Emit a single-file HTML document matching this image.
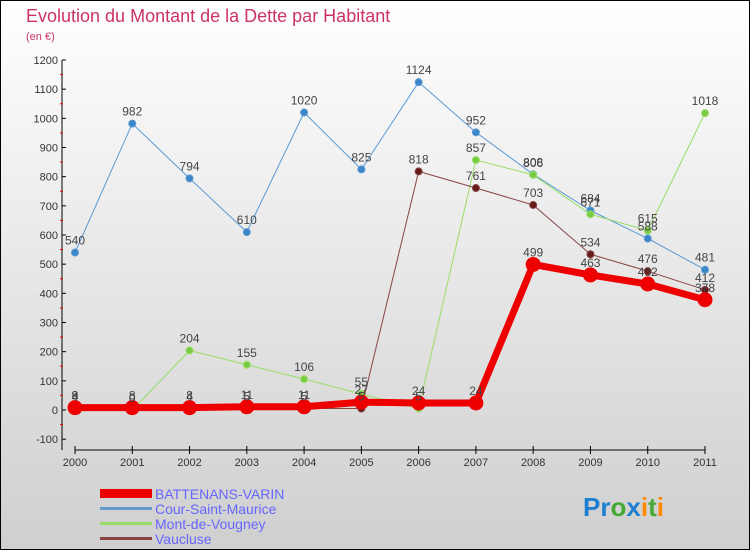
<!DOCTYPE html>
<html><head><meta charset="utf-8"><style>
html,body{margin:0;padding:0}
body{width:750px;height:550px;overflow:hidden;font-family:"Liberation Sans",sans-serif}
</style></head><body>
<svg id="c" width="750" height="550" xmlns="http://www.w3.org/2000/svg">
<defs><linearGradient id="bg" x1="0" y1="0" x2="0" y2="1"><stop offset="0" stop-color="#ffffff"/><stop offset="1" stop-color="#cfcfcf"/></linearGradient></defs>
<rect x="0.5" y="0.5" width="749" height="549" fill="url(#bg)" stroke="#000"/>
<text x="26" y="22" font-size="18" fill="#cc3366">Evolution du Montant de la Dette par Habitant</text>
<text x="26" y="40" font-size="11" fill="#cc3366">(en €)</text>
<g id="axes"></g><g id="series"></g><g id="labels"></g>
<g>
<rect x="100" y="489" width="52" height="9" fill="#ee0000"/><text x="155" y="499" font-size="14" fill="#6666ff">BATTENANS-VARIN</text>
<rect x="100" y="507" width="52" height="3" fill="#6699cc"/><text x="155" y="514" font-size="14" fill="#6666ff">Cour-Saint-Maurice</text>
<rect x="100" y="522" width="52" height="3" fill="#99dd66"/><text x="155" y="529" font-size="14" fill="#6666ff">Mont-de-Vougney</text>
<rect x="100" y="537" width="52" height="3" fill="#884444"/><text x="155" y="544" font-size="14" fill="#6666ff">Vaucluse</text>
</g>
<text x="583" y="516" font-size="26" font-weight="bold"><tspan fill="#1e7fd0">Pr</tspan><tspan fill="#44aa33">o</tspan><tspan fill="#1e7fd0">x</tspan><tspan fill="#ff8800">i</tspan><tspan fill="#44aa33">t</tspan><tspan fill="#ff8800">i</tspan></text>
</svg>
<script>
const years=["2000","2001","2002","2003","2004","2005","2006","2007","2008","2009","2010","2011"];
const yTicks=[-100,0,100,200,300,400,500,600,700,800,900,1000,1100,1200];
const battenans=[8,8,8,11,11,27,24,24,499,463,432,378];
const cour=[540,982,794,610,1020,825,1124,952,808,684,588,481];
const mont=[9,0,204,155,106,55,5,857,806,671,615,1018];
const vaucluse=[4,0,4,5,5,5,818,761,703,534,476,412];
const NS="http://www.w3.org/2000/svg";
const X=i=>75+i*(630/11);
const Y=v=>410-v*(350/1200);
function mk(t,a,p){const e=document.createElementNS(NS,t);for(const k in a)e.setAttribute(k,a[k]);p.appendChild(e);return e;}
const ax=document.getElementById('axes');
mk('line',{x1:62,y1:60,x2:62,y2:450,stroke:'#000'},ax);
mk('line',{x1:75,y1:450,x2:705,y2:450,stroke:'#000'},ax);
yTicks.forEach(v=>{
  const l=mk('line',{x1:62,y1:Y(v),x2:66,y2:Y(v),stroke:'#000'},ax);
  
  
  const t=mk('text',{x:58,y:Y(v)+4,'font-size':11,'text-anchor':'end',fill:'#333'},ax);
  
  
  t.textContent=v;
  if(v<1200){const m=mk('line',{x1:60,y1:Y(v+50),x2:63,y2:Y(v+50),stroke:'#e00'},ax);}
});
years.forEach((y,i)=>{
  mk('line',{x1:X(i),y1:446,x2:X(i),y2:454,stroke:'#000'},ax);
  const t=mk('text',{x:X(i),y:466,'font-size':11,'text-anchor':'middle',fill:'#333'},ax);
  
  
  t.textContent=y;
});
const sg=document.getElementById('series'),lg=document.getElementById('labels');
function draw(data,name,color,dot,w,r){
  const g=mk('g',{},sg);
  
  
  mk('polyline',{points:data.map((v,i)=>X(i)+','+Y(v)).join(' '),fill:'none',stroke:color,'stroke-width':w,'stroke-linejoin':'round'},g);
  data.forEach((v,i)=>{
    const c=mk('circle',{cx:X(i),cy:Y(v),r:r,fill:dot,stroke:color,'stroke-width':1},g);
    
    
    const t=mk('text',{x:X(i),y:Y(v)-8,'font-size':12,'text-anchor':'middle',fill:'#444'},lg);
    
    
    t.textContent=v;
  });
}
draw(cour,'cour-saint-maurice','#5b9bd5','#3a86c8',1,3.5);
draw(mont,'mont-de-vougney','#99dd66','#77cc44',1,3.5);
draw(vaucluse,'vaucluse','#884444','#661a1a',1,3.5);
draw(battenans,'battenans-varin','#ee0000','#ee0000',7,7);
</script>
</body></html>
